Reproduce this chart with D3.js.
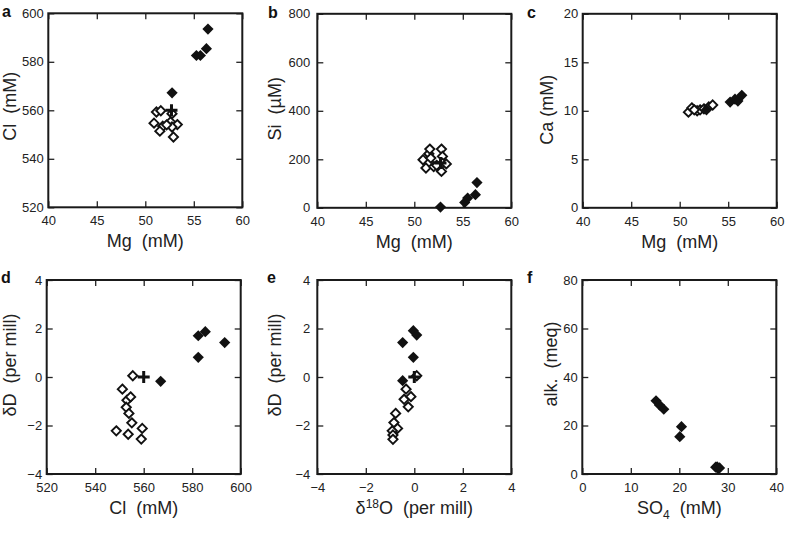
<!DOCTYPE html>
<html>
<head>
<meta charset="utf-8">
<script src="https://cdn.jsdelivr.net/npm/d3@7"></script>
<style>
  body { margin: 0; background: #fff; }
  svg text { font-family: "Liberation Sans", Arial, sans-serif; }
</style>
</head>
<body>
<svg id="chart" width="785" height="542"></svg>
<script>
// --- DATOS ---
const mgTicks   = [40, 45, 50, 55, 60];
const clTicks   = [520, 540, 560, 580, 600];
const siTicks   = [0, 200, 400, 600, 800];
const caTicks   = [0, 5, 10, 15, 20];
const isoTicks  = [-4, -2, 0, 2, 4];
const so4Ticks  = [0, 10, 20, 30, 40];
const alkTicks  = [0, 20, 40, 60, 80];

// a: Mg vs Cl
const aOpen   = [[51.15, 559.3], [51.6, 559.8], [50.9, 554.7], [51.8, 553.4], [51.5, 551.4], [52.75, 558.6],
                 [52.6, 555.2], [53.3, 554.1], [52.75, 553.1], [52.9, 549.0], [52.2, 554.0]];
const aFilled = [[56.46, 593.5], [56.3, 585.4], [55.27, 582.6], [55.68, 582.6], [52.76, 567.2]];
const aCross  = [[52.7, 560]];

// b: Mg vs Si
const bOpen   = [[50.9, 198], [51.2, 164], [51.5, 223], [51.7, 205], [52.0, 170], [52.8, 242], [52.9, 212],
                 [52.9, 184], [52.8, 150], [53.3, 181], [51.6, 242], [52.3, 175]];
const bFilled = [[56.46, 104], [56.3, 54], [55.2, 22], [55.5, 40], [52.7, 3]];
const bCross  = [[52.7, 185]];

// c: Mg vs Ca
const cOpen   = [[50.9, 9.86], [51.25, 10.3], [51.8, 10.0], [52.1, 10.1], [52.5, 10.2], [53.0, 10.4],
                 [53.4, 10.6], [51.5, 10.1]];
const cFilled = [[52.76, 10.1], [55.2, 10.9], [55.7, 11.2], [56.0, 11.0], [56.4, 11.6]];
const cCross  = [];

// d: Cl vs dD
const dOpen   = [[555.5, 0.05], [551.2, -0.5], [553.1, -0.96], [554.6, -0.82], [552.8, -1.25], [553.9, -1.5],
                 [555.1, -1.89], [559.4, -2.12], [548.7, -2.22], [553.6, -2.36], [559.0, -2.56]];
const dFilled = [[567, -0.18], [582.5, 1.7], [585.4, 1.87], [593.4, 1.42], [582.5, 0.81]];
const dCross  = [[560, 0]];

// e: d18O vs dD
const eOpen   = [[0.1, 0.05], [-0.34, -0.5], [-0.42, -0.92], [-0.14, -0.81], [-0.25, -1.23], [-0.77, -1.5],
                 [-0.84, -1.88], [-0.69, -2.12], [-0.91, -2.22], [-0.88, -2.39], [-0.88, -2.57]];
const eFilled = [[-0.04, 1.91], [0.1, 1.73], [-0.48, 1.42], [-0.04, 0.81], [-0.48, -0.15]];
const eCross  = [[0, 0]];

// f: SO4 vs alk.
const fOpen   = [];
const fFilled = [[15.2, 30.2], [15.9, 28.5], [16.8, 26.7], [20.1, 15.4], [20.45, 19.5],
                 [27.5, 2.8], [28.0, 2.2], [27.8, 3.0], [28.3, 2.5]];
const fCross  = [];

// --- PANELES ---
const PW = 194, PH = 194;
const panels = [
  { letter: "a", left: 48.3,  top: 13.3, lx: 2,   xT: mgTicks,  yT: clTicks,  xTitle: ["Mg  (mM)"],  yTitle: "Cl  (mM)",     yOff: 32.5, yShift: -4,  open: aOpen, filled: aFilled, cross: aCross },
  { letter: "b", left: 317.3, top: 13.8, lx: 268, xT: mgTicks,  yT: siTicks,  xTitle: ["Mg  (mM)"],  yTitle: "Si  (\u00b5M)", yOff: 36,   yShift: -2,  open: bOpen, filled: bFilled, cross: bCross },
  { letter: "c", left: 582.7, top: 13.8, lx: 527, xT: mgTicks,  yT: caTicks,  xTitle: ["Mg  (mM)"],  yTitle: "Ca (mM)",      yOff: 30,   yShift: -1,  open: cOpen, filled: cFilled, cross: cCross },
  { letter: "d", left: 46.7,  top: 280,  lx: 1,   xT: clTicks,  yT: isoTicks, xTitle: ["Cl  (mM)"],  yTitle: "\u03b4D  (per mill)", yOff: 31, yShift: -12, open: dOpen, filled: dFilled, cross: dCross },
  { letter: "e", left: 317.3, top: 280,  lx: 267, xT: isoTicks, yT: isoTicks, xTitle: ["\u03b4", "18", "O  (per mill)"], yTitle: "\u03b4D  (per mill)", yOff: 36, yShift: -12, open: eOpen, filled: eFilled, cross: eCross },
  { letter: "f", left: 582.3, top: 280,  lx: 527, xT: so4Ticks, yT: alkTicks, xTitle: ["SO", "4", "  (mM)"], yTitle: "alk.  (meq)", yOff: 25, yShift: -13, open: fOpen, filled: fFilled, cross: fCross }
];

const svg = d3.select("#chart");

function diamond(r) {
  return `M0,${-r}L${r},0L0,${r}L${-r},0Z`;
}

panels.forEach((p, i) => {
  const x = d3.scaleLinear().domain(d3.extent(p.xT)).range([0, PW]);
  const y = d3.scaleLinear().domain(d3.extent(p.yT)).range([PH, 0]);
  const g = svg.append("g").attr("transform", `translate(${p.left},${p.top})`);

  // ejes con ticks hacia adentro
  const styleAxis = sel => {
    sel.select(".domain").remove();
    sel.selectAll("line").attr("stroke", "#222").attr("stroke-width", 1.3);
    sel.selectAll("text").style("font-size", "13px").attr("fill", "#222");
  };
  g.append("g").attr("transform", `translate(0,${PH})`)
    .call(d3.axisBottom(x).tickValues(p.xT).tickSize(-6).tickPadding(8.6).tickFormat(d3.format("d")))
    .call(styleAxis);
  g.append("g")
    .call(d3.axisTop(x).tickValues(p.xT).tickSize(-6).tickFormat(""))
    .call(styleAxis);
  g.append("g")
    .call(d3.axisLeft(y).tickValues(p.yT).tickSize(-6).tickPadding(i === 1 || i === 4 ? 7 : 4.5).tickFormat(d3.format("d")))
    .call(styleAxis);
  g.append("g").attr("transform", `translate(${PW},0)`)
    .call(d3.axisRight(y).tickValues(p.yT).tickSize(-6).tickFormat(""))
    .call(styleAxis);

  g.append("rect")
    .attr("width", PW).attr("height", PH)
    .attr("fill", "none").attr("stroke", "#1a1a1a").attr("stroke-width", 2);

  // marcadores
  g.selectAll(".open").data(p.open).join("path")
    .attr("class", "open")
    .attr("transform", d => `translate(${x(d[0])},${y(d[1])})`)
    .attr("d", diamond(4.6))
    .attr("fill", "#fff").attr("stroke", "#111").attr("stroke-width", 1.9);

  g.selectAll(".filled").data(p.filled).join("path")
    .attr("class", "filled")
    .attr("transform", d => `translate(${x(d[0])},${y(d[1])})`)
    .attr("d", diamond(5.6))
    .attr("fill", "#111");

  g.selectAll(".cross").data(p.cross).join("path")
    .attr("class", "cross")
    .attr("transform", d => `translate(${x(d[0])},${y(d[1])})`)
    .attr("d", "M-6,0H6M0,-6V6")
    .attr("stroke", "#111").attr("stroke-width", 3);

  // titulos
  const xt = g.append("text")
    .attr("x", PW / 2).attr("y", PH + 40)
    .attr("text-anchor", "middle")
    .style("font-size", "18px").style("white-space", "pre")
    .attr("fill", "#222");
  if (p.xTitle.length === 1) {
    xt.text(p.xTitle[0]);
  } else {
    const sup = p.letter === "e";
    xt.append("tspan").text(p.xTitle[0]);
    xt.append("tspan").attr("dy", sup ? -6 : 5).style("font-size", "12px").text(p.xTitle[1]);
    xt.append("tspan").attr("dy", sup ? 6 : -5).text(p.xTitle[2]);
  }

  g.append("text")
    .attr("transform", `translate(${-p.yOff},${PH / 2 + p.yShift}) rotate(-90)`)
    .attr("text-anchor", "middle")
    .style("font-size", "18px").style("white-space", "pre")
    .attr("fill", "#222")
    .text(p.yTitle);

  svg.append("text")
    .attr("x", p.lx).attr("y", p.top + (i < 3 ? 3.7 : 3))
    .style("font-size", "16px").style("font-weight", "bold")
    .attr("fill", "#111")
    .text(p.letter);
});
</script>
</body>
</html>
